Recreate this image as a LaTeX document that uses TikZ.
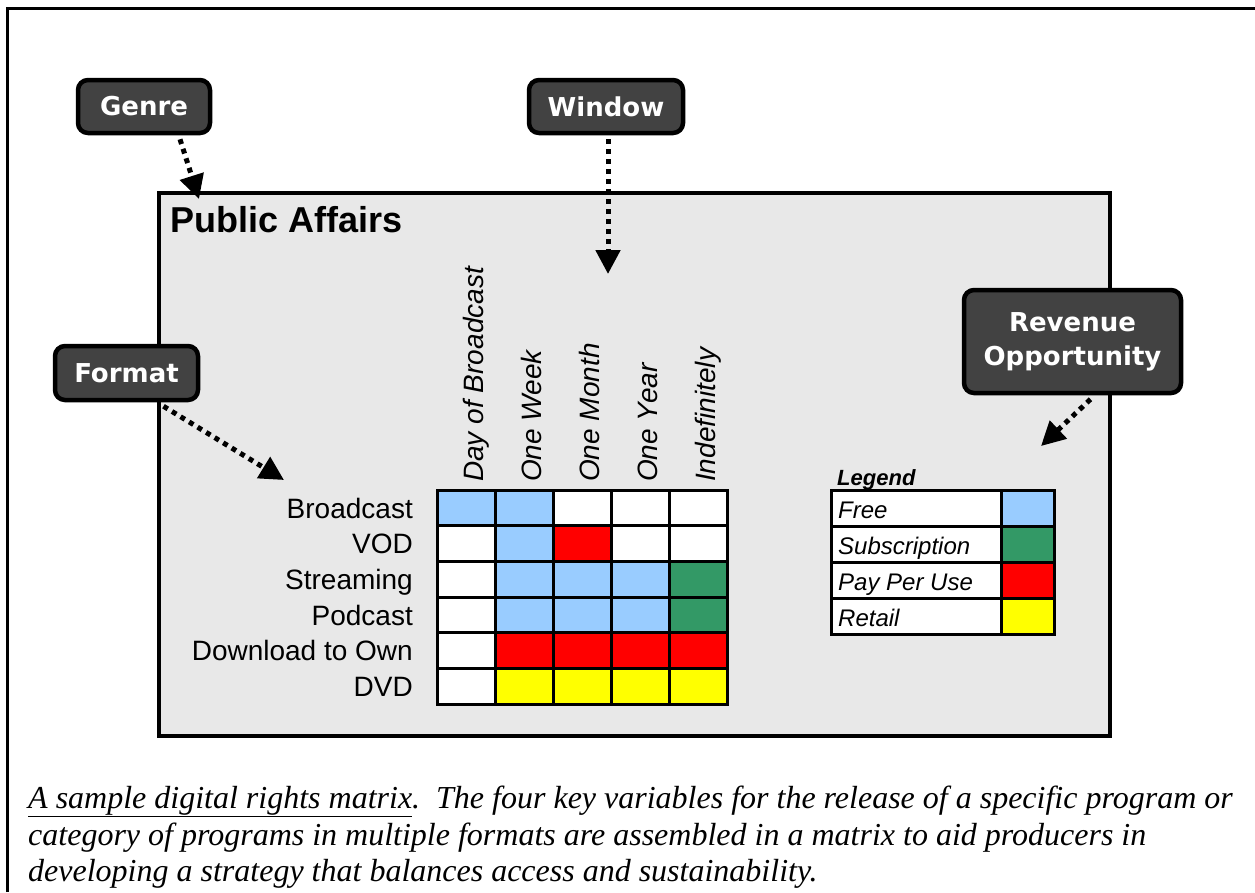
\documentclass[tikz,border=0pt]{standalone}
\usepackage{fontspec}
\setmainfont{Liberation Sans}
\newfontfamily\boxfont{DejaVu Sans}
\newfontfamily\capfont{Liberation Serif}
\usetikzlibrary{arrows.meta}
\definecolor{cellblue}{HTML}{99CCFF}
\definecolor{cellgreen}{HTML}{339966}
\definecolor{cellred}{HTML}{FF0000}
\definecolor{cellyellow}{HTML}{FFFF00}
\definecolor{panelgray}{HTML}{E8E8E8}
\definecolor{boxgray}{HTML}{424242}
\begin{document}
\begin{tikzpicture}[x=1pt,y=-1pt,
  tag/.style={draw=black, line width=4.5pt, fill=boxgray, rounded corners=10pt,
    text=white, font=\boxfont\bfseries\fontsize{26}{34}\selectfont, align=center, inner sep=0pt},
  pointer/.style={line width=5pt, dash pattern=on 5pt off 5pt,
    -{Triangle[length=24pt,width=24pt]}},
  rowlab/.style={anchor=base east, inner sep=0pt, font=\fontsize{28}{30}\selectfont},
  colhead/.style={anchor=base west, rotate=90, inner sep=0pt, font=\itshape\fontsize{28}{30}\selectfont},
  legtext/.style={anchor=base west, inner sep=0pt, font=\itshape\fontsize{24}{26}\selectfont},
  captext/.style={anchor=base west, inner sep=0pt, font=\capfont\itshape\fontsize{32}{36}\selectfont},
  gridline/.style={line width=3pt, line cap=rect}
]
\useasboundingbox (0,0) rectangle (1255,892);
\fill[white] (0,0) rectangle (1255,892);
% outer frame
\draw[line width=3pt, line join=miter] (7,892) -- (7,8) -- (1260,8);
% panel
\node[draw=black, line width=4pt, fill=panelgray, minimum width=951pt, minimum height=543pt,
  inner sep=0pt, anchor=north west] (panel) at (157,191) {};
\node[anchor=base west, inner sep=0pt, font=\bfseries\fontsize{36}{38}\selectfont] (title) at (170,232) {Public Affairs};

% matrix cells
\foreach \c [count=\i from 0] in {
  cellblue,cellblue,white,white,white,
  white,cellblue,cellred,white,white,
  white,cellblue,cellblue,cellblue,cellgreen,
  white,cellblue,cellblue,cellblue,cellgreen,
  white,cellred,cellred,cellred,cellred,
  white,cellyellow,cellyellow,cellyellow,cellyellow}{
  \pgfmathsetmacro\cx{mod(\i,5)}
  \pgfmathsetmacro\cy{floor(\i/5)}
  \fill[\c] (437+58*\cx, 490+214/6*\cy) rectangle ++(58,214/6);
}
\foreach \gx in {495,553,611,669} \draw[gridline] (\gx,490) -- (\gx,704);
\foreach \gy in {1,...,5} \draw[gridline] (437,490+214/6*\gy) -- (727,490+214/6*\gy);
\draw[gridline] (437,490) rectangle (727,704);

% row labels
\foreach \t [count=\i from 0] in {Broadcast,VOD,Streaming,Podcast,Download to Own,DVD}
  \node[rowlab] (r\i) at (413, 490+214/6*\i+28) {\t};
% column headers
\foreach \t [count=\i from 0] in {Day of Broadcast,One Week,One Month,One Year,Indefinitely}
  \node[colhead] (h\i) at (483+58*\i, 482) {\t};

% legend
\node[anchor=base west, inner sep=0pt, font=\bfseries\itshape\fontsize{22}{24}\selectfont] (legtitle) at (837,485) {Legend};
\foreach \c [count=\i from 0] in {cellblue,cellgreen,cellred,cellyellow}{
  \fill[white] (831,490+36*\i) rectangle (1001,526+36*\i);
  \fill[\c] (1001,490+36*\i) rectangle (1054,526+36*\i);
}
\foreach \gy in {526,562,598} \draw[gridline] (831,\gy) -- (1054,\gy);
\draw[gridline] (1001,490) -- (1001,634);
\draw[gridline] (831,490) rectangle (1054,634);
\foreach \t [count=\i from 0] in {Free,Subscription,Pay Per Use,Retail}
  \node[legtext] (l\i) at (838, 518+36*\i) {\t};

% tag boxes
\node[tag, minimum width=132pt, minimum height=53pt] (genre) at (144,106.5) {Genre};
\node[tag, minimum width=154pt, minimum height=53pt] (window) at (606,106.5) {Window};
\node[tag, minimum width=143pt, minimum height=54pt] (format) at (126.5,373) {Format};
\node[tag, minimum width=217pt, minimum height=103pt] (revenue) at (1072.5,341.5) {Revenue\\Opportunity};

% pointer targets
\coordinate (gtip) at (199,199);
\coordinate (wtip) at (608,274);
\coordinate (ftip) at (284,480);
\coordinate (rtip) at (1041,446);

\draw[pointer] ([xshift=36pt,yshift=-4pt]genre.south) -- (gtip);
\draw[pointer] ([xshift=2pt,yshift=-4pt]window.south) -- (wtip);
\draw[pointer] ([xshift=37pt,yshift=-4pt]format.south) -- (ftip);
\draw[pointer] ([xshift=18pt,yshift=-4pt]revenue.south) -- (rtip);

% caption
\node[captext] (cap1) at (28,808) {\underline{A sample digital rights matrix}.\ \ The four key variables for the release of a specific program or};
\node[captext] (cap2) at (28,845) {category of programs in multiple formats are assembled in a matrix to aid producers in};
\node[captext] (cap3) at (28,881) {developing a strategy that balances access and sustainability.};
\end{tikzpicture}
\end{document}
